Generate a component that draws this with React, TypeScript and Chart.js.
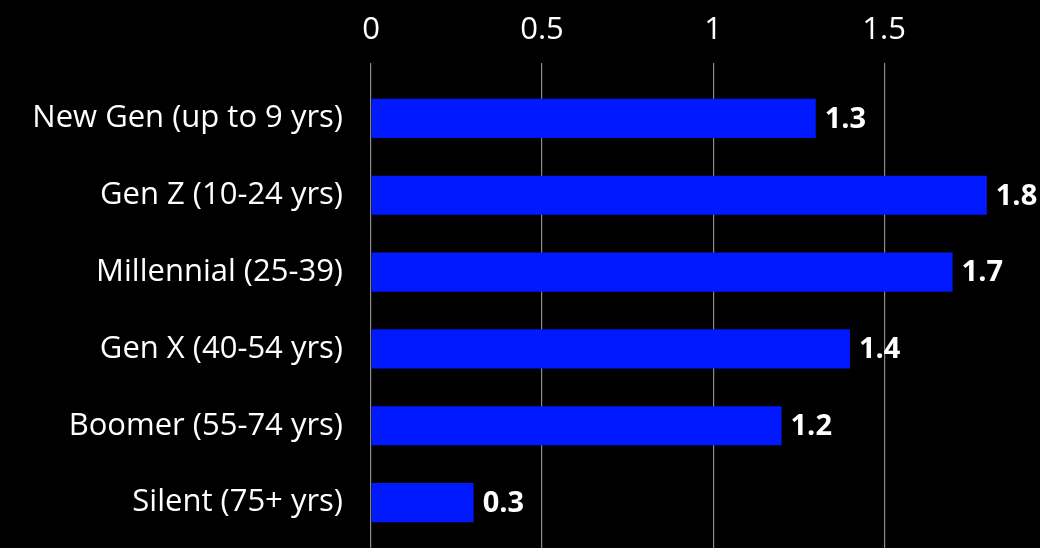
import React, { useEffect, useRef } from "react";
import { Chart, registerables } from "chart.js";

Chart.register(...registerables);

const categories = [
  "New Gen (up to 9 yrs)",
  "Gen Z (10-24 yrs)",
  "Millennial (25-39)",
  "Gen X (40-54 yrs)",
  "Boomer (55-74 yrs)",
  "Silent (75+ yrs)",
];
const values = [1.3, 1.8, 1.7, 1.4, 1.2, 0.3];
const xMin = 0;
const xMax = 1.9;
const xStep = 0.5;

const FONT = "'Open Sans', Lato, sans-serif";

const valueLabels = {
  id: "valueLabels",
  afterDatasetsDraw(chart: any) {
    const ctx = chart.ctx;
    const meta = chart.getDatasetMeta(0);
    ctx.save();
    ctx.fillStyle = "#ffffff";
    ctx.font = `bold 29px ${FONT}`;
    ctx.textAlign = "left";
    ctx.textBaseline = "middle";
    meta.data.forEach((bar: any, i: number) => {
      const v = chart.data.datasets[0].data[i];
      ctx.fillText(String(v), bar.x + 9, bar.y + 1);
    });
    ctx.restore();
  },
};

export default function App() {
  const ref = useRef<HTMLCanvasElement | null>(null);
  useEffect(() => {
    if (!ref.current) return;
    const chart = new Chart(ref.current, {
      type: "bar",
      data: {
        labels: categories,
        datasets: [
          {
            data: values,
            backgroundColor: "#0019FF",
            borderWidth: 0,
            barPercentage: 0.51,
            categoryPercentage: 1,
            xAxisID: "x",
          },
        ],
      },
      options: {
        indexAxis: "y",
        animation: false,
        responsive: false,
        layout: { padding: { left: 0, right: 19, top: 0, bottom: 0 } },
        plugins: { legend: { display: false }, tooltip: { enabled: false } },
        scales: {
          x: {
            position: "top",
            min: xMin,
            max: xMax,
            border: { display: false },
            grid: { color: "#8a8a8a", lineWidth: 1.2, tickLength: 17, drawTicks: true },
            ticks: {
              stepSize: xStep,
              includeBounds: false,
              color: "#ffffff",
              padding: 14,
              font: { family: FONT, size: 31 },
              callback: (v: any) => String(Number(v)),
            },
            afterFit: (s: any) => {
              s.height = 80;
              s.paddingLeft = 0;
              s.paddingRight = 0;
            },
          },
          x2: {
            position: "bottom",
            min: xMin,
            max: xMax,
            border: { display: false },
            grid: { color: "#8a8a8a", lineWidth: 1.2, tickLength: 7, drawOnChartArea: false },
            ticks: { stepSize: xStep, includeBounds: false, display: false },
            afterFit: (s: any) => {
              s.height = 7;
              s.paddingLeft = 0;
              s.paddingRight = 0;
            },
          },
          y: {
            border: { display: false },
            grid: { display: false },
            ticks: {
              color: "#ffffff",
              padding: 20,
              font: { family: FONT, size: 31 },
            },
            afterFit: (s: any) => {
              s.width = 371;
              s.paddingTop = 0;
              s.paddingBottom = 0;
            },
          },
        },
      },
      plugins: [valueLabels],
    });
    return () => chart.destroy();
  }, []);
  return (
    <div style={{ position: "fixed", left: 0, top: 0, width: 1040, height: 548, background: "#000" }}>
      <canvas ref={ref} width={1040} height={548} />
    </div>
  );
}
